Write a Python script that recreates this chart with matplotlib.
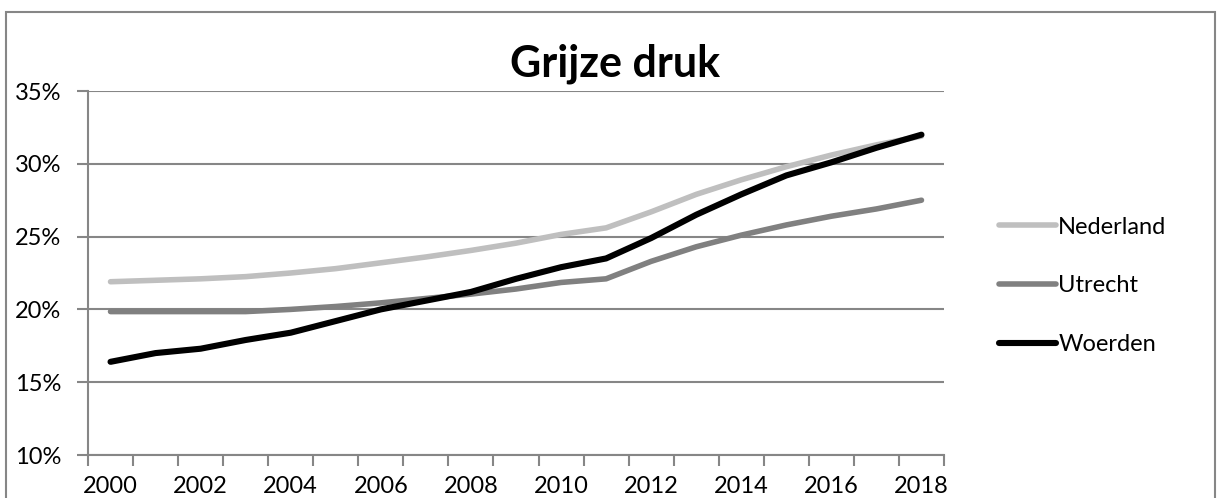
import numpy as np
import matplotlib.pyplot as plt
from matplotlib.patches import Rectangle

plt.rcParams['font.family'] = ['Lato', 'DejaVu Sans']

years = list(range(2000, 2019))
nederland = [21.9, 22.0, 22.1, 22.25, 22.5, 22.8, 23.2, 23.6, 24.05, 24.55,
             25.15, 25.6, 26.7, 27.9, 28.9, 29.8, 30.6, 31.3, 31.9]
utrecht = [19.85, 19.85, 19.85, 19.85, 20.0, 20.2, 20.45, 20.75, 21.05, 21.4,
           21.85, 22.1, 23.3, 24.3, 25.1, 25.8, 26.4, 26.9, 27.5]
woerden = [16.4, 17.0, 17.3, 17.9, 18.4, 19.2, 20.0, 20.6, 21.2, 22.1,
           22.9, 23.5, 24.9, 26.5, 27.9, 29.2, 30.1, 31.1, 32.0]
y_ticks = [10, 15, 20, 25, 30, 35]

GRID = '#868686'

fig = plt.figure(figsize=(12.21, 4.98), dpi=100)
ax = fig.add_axes([88 / 1221, 1 - 455 / 498, 856 / 1221, 364 / 498])

# outer chart frame
fig.patches.append(Rectangle((6 / 1221, -0.1), 1209 / 1221, 1.1 - 12 / 498,
                             transform=fig.transFigure, fill=False,
                             edgecolor=GRID, linewidth=1.5))

x = np.arange(len(years))
ax.plot(x, nederland, color='#BFBFBF', lw=4.0, solid_capstyle='round', label='Nederland')
ax.plot(x, utrecht, color='#808080', lw=4.0, solid_capstyle='round', label='Utrecht')
ax.plot(x, woerden, color='black', lw=4.4, solid_capstyle='round', label='Woerden')

ax.set_xlim(-0.5, len(years) - 0.5)
ax.set_ylim(10, 35)
ax.set_yticks(y_ticks)
ax.set_yticklabels([f'{v}%' for v in y_ticks])
ax.yaxis.grid(True, color=GRID, lw=1.5)
ax.set_axisbelow(True)

# ticks at category boundaries, labels at every second category
ax.set_xticks(np.arange(-0.5, len(years), 1))
ax.set_xticklabels([])
ax.set_xticks(x[::2], minor=True)
ax.set_xticklabels([str(y) for y in years[::2]], minor=True)
ax.tick_params(axis='x', which='major', length=8, width=1.5, color=GRID)
ax.tick_params(axis='x', which='minor', length=0, pad=15, labelsize=17)
ax.tick_params(axis='y', length=8, width=1.5, color=GRID, pad=11, labelsize=17)

for s in ['top', 'right']:
    ax.spines[s].set_visible(False)
for s in ['left', 'bottom']:
    ax.spines[s].set_color(GRID)
    ax.spines[s].set_linewidth(1.5)

fig.text(615 / 1221, 1 - 77 / 498, 'Grijze druk', ha='center', va='baseline',
         fontsize=31, fontweight='bold')

ax.legend(loc='center left', bbox_to_anchor=(978 / 1221, 1 - 286 / 498),
          bbox_transform=fig.transFigure, frameon=False, fontsize=17,
          handlelength=2.4, handletextpad=0.1, labelspacing=1.6)

fig.savefig('out.png', dpi=100)
